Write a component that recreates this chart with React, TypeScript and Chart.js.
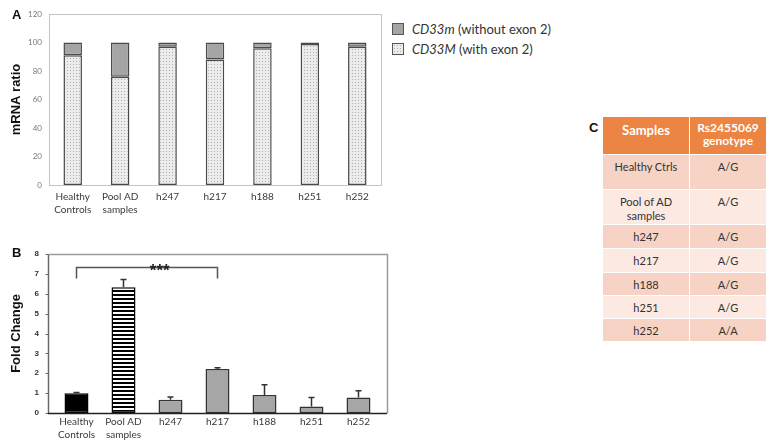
import React, { useEffect, useRef } from 'react';
import { Chart, registerables } from 'chart.js';

Chart.register(...registerables);

// ---------- Data ----------
const categories: (string | string[])[] = [
  ['Healthy', 'Controls'],
  ['Pool AD', 'samples'],
  'h247',
  'h217',
  'h188',
  'h251',
  'h252',
];

// Panel A: mRNA ratio (%)
const cd33MWithExon2 = [91, 76, 97, 88, 96, 99, 97];
const cd33mWithoutExon2 = [9, 24, 3, 12, 4, 1, 3];
const yMaxA = 120;
const yStepA = 20;

// Panel B: fold change
const foldChange = [1.0, 6.33, 0.67, 2.22, 0.91, 0.33, 0.78];
const foldChangeErr = [0.03, 0.39, 0.13, 0.06, 0.51, 0.45, 0.34];
const yMaxB = 8;
const yStepB = 1;
const bracketFrom = 0;
const bracketTo = 3;
const bracketLevel = 7.33;
const bracketDrop = 6.77;
const bracketLabelAt = 1.77;
const bracketLabel = '***';

// Panel C: table
const tableHeader = ['Samples', 'Rs2455069\ngenotype'];
const tableSamples = ['Healthy Ctrls', 'Pool of AD\nsamples', 'h247', 'h217', 'h188', 'h251', 'h252'];
const tableGenotypes = ['A/G', 'A/G', 'A/G', 'A/G', 'A/G', 'A/G', 'A/A'];
const tableRowHeights = [35, 35, 24, 24, 23, 23, 23];

// ---------- Helpers ----------
function makePattern(ctx: CanvasRenderingContext2D, kind: 'dots' | 'stripes') {
  const tile = document.createElement('canvas');
  if (kind === 'dots') {
    tile.width = 3;
    tile.height = 3;
    const g = tile.getContext('2d')!;
    g.fillStyle = '#ececec';
    g.fillRect(0, 0, 3, 3);
    g.fillStyle = '#b0b0b0';
    g.fillRect(1, 1, 1, 1);
  } else {
    tile.width = 4;
    tile.height = 4;
    const g = tile.getContext('2d')!;
    g.fillStyle = '#ffffff';
    g.fillRect(0, 0, 4, 4);
    g.fillStyle = '#000000';
    g.fillRect(0, 0, 4, 2);
  }
  return ctx.createPattern(tile, 'repeat')!;
}

const frameA = {
  id: 'frameA',
  beforeDatasetsDraw(chart: any) {
    const { ctx, chartArea: a } = chart;
    ctx.save();
    ctx.strokeStyle = '#c4c4c4';
    ctx.lineWidth = 1;
    ctx.strokeRect(Math.round(a.left) + 0.5, Math.round(a.top) + 0.5, Math.round(a.right - a.left), Math.round(a.bottom - a.top));
    ctx.restore();
  },
};

const INSET = 5;
const frameB = {
  id: 'frameB',
  beforeDatasetsDraw(chart: any) {
    const { ctx, chartArea: a, scales } = chart;
    const l = Math.round(a.left - INSET) + 0.5;
    const r = Math.round(a.right + INSET) + 0.5;
    const t = Math.round(a.top) + 0.5;
    const b = Math.round(a.bottom) + 0.5;
    ctx.save();
    ctx.lineWidth = 1.5;
    ctx.strokeStyle = '#9a9a9a';
    ctx.beginPath();
    ctx.moveTo(l, t);
    ctx.lineTo(r, t);
    ctx.lineTo(r, b);
    ctx.stroke();
    ctx.strokeStyle = '#6a6a6a';
    ctx.beginPath();
    ctx.moveTo(l, t);
    ctx.lineTo(l, b);
    ctx.stroke();
    ctx.lineWidth = 1;
    for (let v = 0; v <= yMaxB; v += yStepB) {
      const y = Math.round(scales.y.getPixelForValue(v)) + 0.5;
      ctx.beginPath();
      ctx.moveTo(l - 3, y);
      ctx.lineTo(l, y);
      ctx.stroke();
    }
    ctx.restore();
  },
  afterDatasetsDraw(chart: any) {
    const { ctx, chartArea: a } = chart;
    const l = Math.round(a.left - INSET);
    const r = Math.round(a.right + INSET);
    const b = Math.round(a.bottom) + 0.5;
    ctx.save();
    ctx.strokeStyle = '#222';
    ctx.lineWidth = 1.5;
    ctx.beginPath();
    ctx.moveTo(l, b);
    ctx.lineTo(r, b);
    ctx.stroke();
    ctx.restore();
  },
};

const errorAndBracket = {
  id: 'errorAndBracket',
  afterDatasetsDraw(chart: any) {
    const { ctx, scales } = chart;
    const meta = chart.getDatasetMeta(0);
    ctx.save();
    ctx.strokeStyle = '#333';
    ctx.lineWidth = 1.5;
    meta.data.forEach((bar: any, i: number) => {
      const x = bar.x;
      const y0 = scales.y.getPixelForValue(foldChange[i]);
      const y1 = scales.y.getPixelForValue(foldChange[i] + foldChangeErr[i]);
      ctx.beginPath();
      ctx.moveTo(x, y0);
      ctx.lineTo(x, y1);
      ctx.moveTo(x - 3, y1);
      ctx.lineTo(x + 3, y1);
      ctx.stroke();
    });
    const x0 = scales.x.getPixelForValue(bracketFrom);
    const x1 = scales.x.getPixelForValue(bracketTo);
    const yl = Math.round(scales.y.getPixelForValue(bracketLevel)) + 0.5;
    const yd = scales.y.getPixelForValue(bracketDrop);
    ctx.strokeStyle = '#555';
    ctx.lineWidth = 1.5;
    ctx.beginPath();
    ctx.moveTo(x0, yd);
    ctx.lineTo(x0, yl);
    ctx.lineTo(x1, yl);
    ctx.lineTo(x1, yd);
    ctx.stroke();
    const step = scales.x.getPixelForValue(1) - scales.x.getPixelForValue(0);
    const xl = scales.x.getPixelForValue(0) + bracketLabelAt * step;
    ctx.fillStyle = '#222';
    ctx.font = 'bold 17px "Liberation Sans"';
    ctx.textAlign = 'center';
    ctx.textBaseline = 'alphabetic';
    ctx.fillText(bracketLabel, xl, yl + 8);
    ctx.restore();
  },
};

const tickFont = { family: 'Lato', size: 10, lineHeight: 1.3 };
const titleFont = { family: 'Liberation Sans', size: 13, weight: 'bold' as const };

function ChartA() {
  const ref = useRef<HTMLCanvasElement>(null);
  useEffect(() => {
    const canvas = ref.current!;
    const ctx = canvas.getContext('2d')!;
    const dots = makePattern(ctx, 'dots');
    const chart = new Chart(canvas, {
      type: 'bar',
      data: {
        labels: categories as any,
        datasets: [
          {
            label: 'CD33M (with exon 2)',
            data: cd33MWithExon2,
            backgroundColor: dots,
            borderColor: '#4a4a4a',
            borderWidth: 1.5,
            borderSkipped: false,
            barPercentage: 0.39,
            categoryPercentage: 1,
          },
          {
            label: 'CD33m (without exon 2)',
            data: cd33mWithoutExon2,
            backgroundColor: '#a5a5a5',
            borderColor: '#4a4a4a',
            borderWidth: 1.5,
            borderSkipped: false,
            barPercentage: 0.39,
            categoryPercentage: 1,
          },
        ],
      },
      options: {
        animation: false,
        responsive: false,
        maintainAspectRatio: false,
        layout: { padding: { top: 14, right: 9, left: 0, bottom: 0 } },
        plugins: { legend: { display: false }, tooltip: { enabled: false } },
        scales: {
          x: {
            stacked: true,
            grid: { display: false, drawTicks: false },
            border: { display: false },
            ticks: { font: tickFont, color: '#3a3a3a', padding: 5.5, maxRotation: 0, autoSkip: false },
            afterFit: (s: any) => {
              s.height = 35;
            },
          },
          y: {
            stacked: true,
            min: 0,
            max: yMaxA,
            grid: { display: false, drawTicks: false },
            border: { display: false },
            ticks: { stepSize: yStepA, font: { family: 'Lato', size: 8 }, color: '#777', padding: 7 },
            title: { display: true, text: 'mRNA ratio', font: titleFont, color: '#111', padding: { top: 9, bottom: 0 } },
            afterFit: (s: any) => {
              s.width = 49;
            },
          },
        },
      },
      plugins: [frameA],
    });
    return () => chart.destroy();
  }, []);
  return (
    <canvas
      ref={ref}
      width={390}
      height={220}
      style={{ position: 'absolute', left: 0, top: 0, width: 390, height: 220 }}
    />
  );
}

function ChartB() {
  const ref = useRef<HTMLCanvasElement>(null);
  useEffect(() => {
    const canvas = ref.current!;
    const ctx = canvas.getContext('2d')!;
    const stripes = makePattern(ctx, 'stripes');
    const chart = new Chart(canvas, {
      type: 'bar',
      data: {
        labels: categories as any,
        datasets: [
          {
            label: 'Fold Change',
            data: foldChange,
            backgroundColor: ['#000000', stripes, '#a6a6a6', '#a6a6a6', '#a6a6a6', '#a6a6a6', '#a6a6a6'] as any,
            borderColor: ['#000000', '#000000', '#333333', '#333333', '#333333', '#333333', '#333333'],
            borderWidth: 1.5,
            borderSkipped: false,
            barPercentage: 0.51,
            categoryPercentage: 1,
          },
        ],
      },
      options: {
        animation: false,
        responsive: false,
        maintainAspectRatio: false,
        layout: { padding: { top: 24, right: 8, left: 0, bottom: 0 } },
        plugins: { legend: { display: false }, tooltip: { enabled: false } },
        scales: {
          x: {
            grid: { display: false, drawTicks: false },
            border: { display: false },
            ticks: { font: tickFont, color: '#3a3a3a', padding: 2.5, maxRotation: 0, autoSkip: false },
            afterFit: (s: any) => {
              s.height = 29;
            },
          },
          y: {
            min: 0,
            max: yMaxB,
            grid: { display: false, drawTicks: false },
            border: { display: false },
            ticks: { stepSize: yStepB, font: { family: 'Liberation Sans', size: 8, weight: 'bold' }, color: '#333', padding: 14 },
            title: { display: true, text: 'Fold Change', font: titleFont, color: '#111', padding: { top: 9, bottom: 0 } },
            afterFit: (s: any) => {
              s.width = 53;
            },
          },
        },
      },
      plugins: [frameB, errorAndBracket],
    });
    return () => chart.destroy();
  }, []);
  return (
    <canvas
      ref={ref}
      width={390}
      height={212}
      style={{ position: 'absolute', left: 0, top: 230, width: 390, height: 212 }}
    />
  );
}

function Legend() {
  const box = (bg: string): React.CSSProperties => ({
    position: 'absolute',
    left: 0,
    width: 10,
    height: 10,
    border: '1px solid #555',
    background: bg,
  });
  const txt: React.CSSProperties = {
    position: 'absolute',
    left: 20,
    fontFamily: 'Lato',
    fontSize: 13,
    lineHeight: '14px',
    color: '#333',
    whiteSpace: 'nowrap',
  };
  return (
    <div style={{ position: 'absolute', left: 392, top: 23, width: 200, height: 40 }}>
      <div style={{ ...box('#a5a5a5'), top: 0 }} />
      <div style={{ ...txt, top: -1 }}>
        <i>CD33m</i> (without exon 2)
      </div>
      <div style={{ ...box('radial-gradient(circle, #b0b0b0 0.7px, #ececec 0.9px) 0 0 / 3px 3px'), top: 20 }} />
      <div style={{ ...txt, top: 19 }}>
        <i>CD33M</i> (with exon 2)
      </div>
    </div>
  );
}

function Table() {
  const left = 603;
  const top = 117;
  const col1 = 87;
  const col2 = 76;
  const headerH = 38;
  const cells: React.ReactNode[] = [];
  const cellStyle = (x: number, y: number, w: number, h: number, bg: string): React.CSSProperties => ({
    position: 'absolute',
    left: x,
    top: y,
    width: w - 1,
    height: h - 1,
    background: bg,
    textAlign: 'center',
    whiteSpace: 'pre-line',
    boxSizing: 'border-box',
  });
  cells.push(
    <div key="h0" style={{ ...cellStyle(0, 0, col1, headerH, '#ec8443'), color: '#fff', fontWeight: 700, fontSize: 13, lineHeight: '13px', paddingTop: 7, fontFamily: 'Lato' }}>
      {tableHeader[0]}
    </div>
  );
  cells.push(
    <div key="h1" style={{ ...cellStyle(col1, 0, col2 + 1, headerH, '#ec8443'), color: '#fff', fontWeight: 700, fontSize: 12, lineHeight: '13px', paddingTop: 4, fontFamily: 'Lato' }}>
      {tableHeader[1]}
    </div>
  );
  let y = headerH;
  tableSamples.forEach((s, i) => {
    const h = tableRowHeights[i];
    const bg = i % 2 === 0 ? '#f6d3c5' : '#fbe9e2';
    const common: React.CSSProperties = { color: '#333', fontSize: 11, lineHeight: '14px', paddingTop: 5, fontFamily: 'Lato' };
    cells.push(
      <div key={'s' + i} style={{ ...cellStyle(0, y, col1, h, bg), ...common }}>
        {s}
      </div>
    );
    cells.push(
      <div key={'g' + i} style={{ ...cellStyle(col1, y, col2 + 1, h, bg), ...common }}>
        {tableGenotypes[i]}
      </div>
    );
    y += h;
  });
  return <div style={{ position: 'absolute', left, top, width: col1 + col2, height: y }}>{cells}</div>;
}

const panelLetter: React.CSSProperties = {
  position: 'absolute',
  fontFamily: 'Liberation Sans',
  fontWeight: 700,
  fontSize: 13,
  lineHeight: '13px',
  color: '#111',
};

export default function App() {
  return (
    <div style={{ position: 'absolute', left: 0, top: 0, width: 766, height: 442, background: '#fff', overflow: 'hidden' }}>
      <ChartA />
      <ChartB />
      <Legend />
      <Table />
      <div style={{ ...panelLetter, left: 12, top: 8 }}>A</div>
      <div style={{ ...panelLetter, left: 12, top: 246 }}>B</div>
      <div style={{ ...panelLetter, left: 589, top: 121 }}>C</div>
    </div>
  );
}
